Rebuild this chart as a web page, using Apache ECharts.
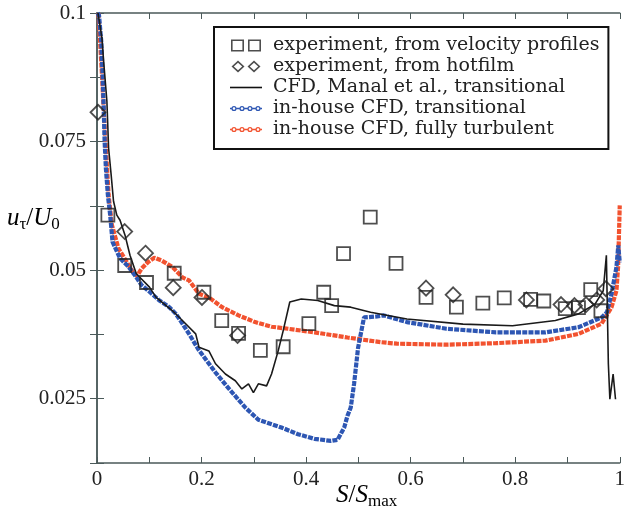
<!DOCTYPE html>
<html>
<head>
<meta charset="utf-8">
<script src="https://cdn.jsdelivr.net/npm/echarts@6/dist/echarts.min.js"></script>
<style>
html, body { margin: 0; padding: 0; background: #fff; }
#main { width: 628px; height: 517px; }
</style>
</head>
<body>
<div id="main"></div>
<script>
// x = S/Smax, y = u_tau/U0
var expProfiles = [
    [0.0208, 0.0607], [0.053, 0.0509], [0.0947, 0.0476], [0.1477, 0.0494], [0.2045, 0.0457],
    [0.2386, 0.0402], [0.2708, 0.0377], [0.3125, 0.0344], [0.3561, 0.0351], [0.4053, 0.0396],
    [0.4337, 0.0457], [0.4489, 0.0431], [0.4716, 0.0532], [0.5227, 0.0603], [0.572, 0.0513],
    [0.6294, 0.0447], [0.6875, 0.0428], [0.7381, 0.0436], [0.779, 0.0446], [0.8295, 0.0443],
    [0.8547, 0.044], [0.8958, 0.0425], [0.921, 0.0427], [0.9445, 0.0462], [0.964, 0.0421]
];
var expHotfilm = [
    [0.0019, 0.0807], [0.053, 0.0575], [0.0928, 0.0533], [0.1458, 0.0466], [0.2008, 0.0447],
    [0.2689, 0.0373], [0.6294, 0.0465], [0.6813, 0.0452], [0.8214, 0.0442], [0.8877, 0.0433],
    [0.9134, 0.0431], [0.9356, 0.0433], [0.9559, 0.0442], [0.9735, 0.0464]
];
var cfdManal = [
    [0.0019, 0.1], [0.0095, 0.0951], [0.0127, 0.0906], [0.0189, 0.0829], [0.0222, 0.0737],
    [0.0271, 0.0685], [0.0316, 0.0634], [0.0379, 0.0607], [0.0441, 0.0597], [0.0536, 0.0568],
    [0.0631, 0.0529], [0.0752, 0.0493], [0.1004, 0.0467], [0.1131, 0.0447], [0.1445, 0.0421],
    [0.1634, 0.0402], [0.1888, 0.0376], [0.1951, 0.035], [0.214, 0.0343], [0.2267, 0.0318],
    [0.2456, 0.0298], [0.2646, 0.0285], [0.2771, 0.0269], [0.2898, 0.0279], [0.2992, 0.0262],
    [0.3087, 0.0279], [0.3244, 0.0275], [0.3339, 0.0298], [0.3466, 0.0343], [0.3561, 0.0382],
    [0.3688, 0.0438], [0.3907, 0.0444], [0.4223, 0.0441], [0.454, 0.0431], [0.4854, 0.0428],
    [0.5233, 0.0418], [0.5928, 0.0405], [0.7002, 0.0395], [0.7949, 0.0392], [0.8769, 0.0402],
    [0.921, 0.0415], [0.9527, 0.0434], [0.9684, 0.046], [0.9744, 0.0529], [0.9782, 0.0318],
    [0.9811, 0.0249], [0.9873, 0.0298], [0.9919, 0.0249]
];
var inhouseTrans = [
    [0.001, 0.1], [0.0038, 0.0996], [0.0081, 0.0945], [0.0108, 0.088], [0.0127, 0.0821],
    [0.0146, 0.075], [0.017, 0.0698], [0.0208, 0.0646], [0.0252, 0.0607], [0.0297, 0.0555],
    [0.0373, 0.0538], [0.0441, 0.0523], [0.06, 0.0507], [0.0725, 0.049], [0.0852, 0.0471],
    [0.1004, 0.0458], [0.1193, 0.0441], [0.1383, 0.0428], [0.1509, 0.0415], [0.1634, 0.0396],
    [0.1761, 0.0376], [0.1951, 0.0344], [0.2267, 0.0301], [0.2519, 0.027], [0.2835, 0.0233],
    [0.3087, 0.0209], [0.3528, 0.0194], [0.3845, 0.0181], [0.4161, 0.0172], [0.4475, 0.0168],
    [0.4602, 0.017], [0.4729, 0.0194], [0.4792, 0.0217], [0.4854, 0.0233], [0.4918, 0.0279],
    [0.4994, 0.0349], [0.5108, 0.0408], [0.536, 0.041], [0.5487, 0.0412], [0.5928, 0.0399],
    [0.6686, 0.0386], [0.7633, 0.0379], [0.858, 0.0379], [0.921, 0.0389], [0.9653, 0.0408],
    [0.9754, 0.0418], [0.9843, 0.0454], [0.9937, 0.0506], [0.9972, 0.0548], [1.0, 0.0515]
];
var inhouseTurb = [
    [0.0028, 0.1], [0.0095, 0.088], [0.0127, 0.0815], [0.017, 0.0737], [0.0222, 0.0646],
    [0.0284, 0.0588], [0.0411, 0.0542], [0.0568, 0.0516], [0.0688, 0.0496], [0.0767, 0.0489],
    [0.0852, 0.0503], [0.0979, 0.0516], [0.1098, 0.0524], [0.1231, 0.0519], [0.1445, 0.0506],
    [0.1634, 0.0486], [0.1761, 0.048], [0.1951, 0.0454], [0.214, 0.0447], [0.2392, 0.0428],
    [0.2708, 0.0412], [0.3025, 0.0399], [0.3339, 0.039], [0.3655, 0.0386], [0.4161, 0.0379],
    [0.4792, 0.0369], [0.5422, 0.036], [0.5739, 0.0357], [0.6686, 0.0355], [0.7633, 0.0358],
    [0.858, 0.0363], [0.921, 0.0376], [0.9653, 0.0396], [0.9843, 0.0428], [0.9937, 0.046],
    [0.9968, 0.0506], [1.0, 0.0626]
];
var legendNames = [
    'experiment, from velocity profiles',
    'experiment, from hotfilm',
    'CFD, Manal et al., transitional',
    'in-house CFD, transitional',
    'in-house CFD, fully turbulent'
];
var yTicks = [0.025, 0.05, 0.075, 0.1];
var xTicks = [0, 0.2, 0.4, 0.6, 0.8, 1];

var serif = 'Liberation Serif',
    legendFont = 'DejaVu Serif',
    axisColor = '#4b5a5a',
    blue = '#2d56b3',
    red = '#f2522f';

// legend icons, drawn in a 32 x 12 box
var ring = function(cx){
    return 'M' + (cx - 2.6) + ',6A2.6,2.6 0 1,1 ' + (cx + 2.6) + ',6A2.6,2.6 0 1,1 ' + (cx - 2.6) + ',6Z' +
        'M' + (cx - 1.3) + ',6A1.3,1.3 0 1,0 ' + (cx + 1.3) + ',6A1.3,1.3 0 1,0 ' + (cx - 1.3) + ',6Z';
};
var beads = 'path://M0,5.3H1.4V6.7H0Z' + ring(4) + 'M6.6,5.3H9.4V6.7H6.6Z' + ring(12) +
    'M14.6,5.3H17.4V6.7H14.6Z' + ring(20) + 'M22.6,5.3H25.4V6.7H22.6Z' + ring(28) + 'M30.6,5.3H32V6.7H30.6Z';
var iconSquares = 'path://M0,0H13V12H0ZM1.6,1.6V10.4H11.4V1.6Z' +
    'M17,0H30V12H17ZM18.6,1.6V10.4H28.4V1.6Z';
var iconDiamonds = 'path://M7,0L13.5,6L7,12L0.5,6ZM7,2.2L2.8,6L7,9.8L11.2,6Z' +
    'M23,0L29.5,6L23,12L16.5,6ZM23,2.2L18.8,6L23,9.8L27.2,6Z';
var iconLine = 'path://M0,5.2H32V6.8H0Z';

var chart = echarts.init(document.getElementById('main'), null, {renderer: 'canvas'});

var onTick = function(v, list){
    for(var i = 0; i < list.length; i++){
        if(Math.abs(v - list[i]) < 1e-6) return String(list[i]);
    }
    return '';
};

var option = {
    backgroundColor: '#fff',
    animation: false,
    grid: {left: 97, right: 3, top: 13, bottom: 54, containLabel: false},
    legend: {
        orient: 'vertical',
        left: 214,
        top: 27,
        padding: [8, 9, 9, 16],
        itemWidth: 32,
        itemHeight: 12,
        itemGap: 0,
        backgroundColor: '#fff',
        borderColor: '#111',
        borderWidth: 2,
        borderRadius: 0,
        selectedMode: false,
        textStyle: {fontFamily: legendFont, fontSize: 19, lineHeight: 21, color: '#222', padding: [0, 0, 0, 6]},
        data: [
            {name: legendNames[0], icon: iconSquares, itemStyle: {color: '#222', borderWidth: 0}},
            {name: legendNames[1], icon: iconDiamonds, itemStyle: {color: '#222', borderWidth: 0}},
            {name: legendNames[2], icon: iconLine, itemStyle: {color: '#111', borderWidth: 0}},
            {name: legendNames[3], icon: beads, itemStyle: {color: blue, borderWidth: 0}},
            {name: legendNames[4], icon: beads, itemStyle: {color: red, borderWidth: 0}}
        ]
    },
    xAxis: [{
        type: 'value',
        min: 0, max: 1, interval: 0.1,
        axisLine: {show: true, lineStyle: {color: axisColor, width: 1.5}},
        axisTick: {show: true, inside: true, length: 6, lineStyle: {color: axisColor}},
        splitLine: {show: false},
        axisLabel: {
            margin: 6,
            fontFamily: serif, fontSize: 21, color: '#222',
            formatter: function(v){ return onTick(v, xTicks); }
        }
    }, {
        type: 'value', position: 'top',
        min: 0, max: 1, interval: 0.1,
        axisLine: {show: true, lineStyle: {color: axisColor, width: 1.5}},
        axisTick: {show: true, inside: true, length: 6, lineStyle: {color: axisColor}},
        axisLabel: {show: false},
        splitLine: {show: false}
    }],
    yAxis: [{
        type: 'value',
        min: 0.0125, max: 0.1, interval: 0.0125,
        axisLine: {show: true, lineStyle: {color: axisColor, width: 1.5}},
        axisTick: {show: true, inside: true, length: 7, lineStyle: {color: axisColor}},
        splitLine: {show: false},
        axisLabel: {
            margin: 11,
            fontFamily: serif, fontSize: 21, color: '#222',
            formatter: function(v){ return onTick(v, yTicks); }
        }
    }, {
        type: 'value', position: 'right',
        min: 0.0125, max: 0.1, interval: 0.0125,
        axisLine: {show: true, lineStyle: {color: axisColor, width: 1.5}},
        axisTick: {show: true, inside: true, length: 7, lineStyle: {color: axisColor}},
        axisLabel: {show: false},
        splitLine: {show: false}
    }],
    graphic: [{
        type: 'text', left: 7, top: 206,
        style: {
            text: '{i|u}{s|τ}{n|/}{i|U}{s|0}',
            rich: {
                i: {fontFamily: serif, fontStyle: 'italic', fontSize: 25, color: '#222', lineHeight: 30},
                n: {fontFamily: serif, fontSize: 25, color: '#222', lineHeight: 30},
                s: {fontFamily: serif, fontSize: 17, color: '#222', lineHeight: 14, verticalAlign: 'bottom'}
            }
        }
    }, {
        type: 'text', left: 336, top: 483,
        style: {
            text: '{i|S}{n|/}{i|S}{s|max}',
            rich: {
                i: {fontFamily: serif, fontStyle: 'italic', fontSize: 25, color: '#222', lineHeight: 30},
                n: {fontFamily: serif, fontSize: 25, color: '#222', lineHeight: 30},
                s: {fontFamily: serif, fontSize: 17, color: '#222', lineHeight: 14, verticalAlign: 'bottom'}
            }
        }
    }],
    series: [
        {
            name: legendNames[4], type: 'line', data: inhouseTurb,
            showSymbol: false, clip: true, z: 2,
            color: red,
            lineStyle: {color: red, width: 4.2, type: [5, 1.2]}
        },
        {
            name: legendNames[3], type: 'line', data: inhouseTrans,
            showSymbol: false, clip: true, z: 3,
            color: blue,
            lineStyle: {color: blue, width: 4.2, type: [5, 1.2]}
        },
        {
            name: legendNames[2], type: 'line', data: cfdManal,
            showSymbol: false, clip: true, z: 4,
            color: '#111',
            lineStyle: {color: '#1a1a1a', width: 1.6}
        },
        {
            name: legendNames[0], type: 'scatter', data: expProfiles,
            symbol: 'rect', symbolSize: 13, z: 5,
            itemStyle: {color: 'rgba(0,0,0,0)', borderColor: '#222', borderWidth: 1.8}
        },
        {
            name: legendNames[1], type: 'scatter', data: expHotfilm,
            symbol: 'diamond', symbolSize: [15, 15], z: 5,
            itemStyle: {color: 'rgba(0,0,0,0)', borderColor: '#222', borderWidth: 1.8}
        }
    ]
};

chart.setOption(option);
</script>
</body>
</html>
